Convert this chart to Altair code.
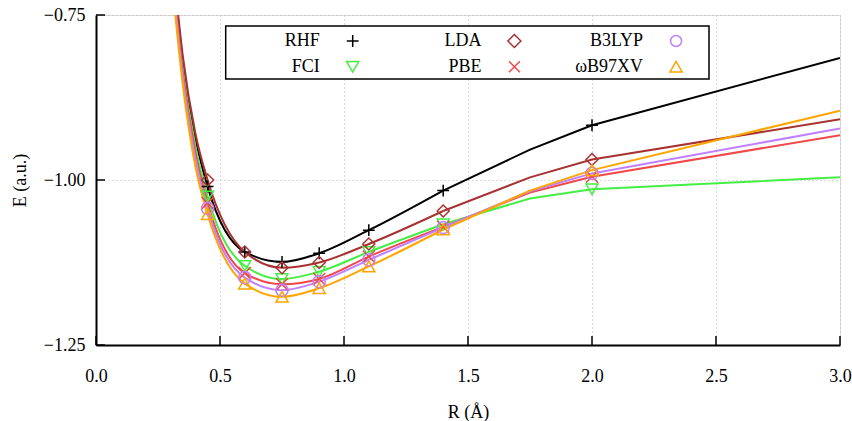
import altair as alt
import pandas as pd

# ---------------- data ----------------
methods = ["RHF", "FCI", "LDA", "PBE", "B3LYP", "ωB97XV"]
colors = ["#000000", "#44ee44", "#a83232", "#f04848", "#c080ff", "#ffa500"]
shapes = ["M-1,0L1,0M0,-1L0,1", "triangle-down", "diamond",
          "M-1,-1L1,1M-1,1L1,-1", "circle", "triangle-up"]
sizes = [140, 150, 170, 120, 120, 150]

R = [0.30, 0.35, 0.40, 0.45, 0.60, 0.75, 0.90, 1.10, 1.40, 1.75, 2.00, 3.00]
R_marked = [0.45, 0.60, 0.75, 0.90, 1.10, 1.40, 2.00]

E_RHF = [-0.640, -0.820, -0.935, -1.010, -1.109, -1.124, -1.111, -1.076, -1.016, -0.954, -0.917, -0.815]
E_FCI = [-0.650, -0.830, -0.948, -1.025, -1.130, -1.150, -1.139, -1.109, -1.067, -1.028, -1.014, -0.996]
E_LDA = [-0.630, -0.812, -0.928, -1.000, -1.109, -1.133, -1.125, -1.097, -1.047, -0.996, -0.969, -0.908]
E_PBE = [-0.655, -0.838, -0.957, -1.035, -1.141, -1.158, -1.150, -1.116, -1.071, -1.019, -0.995, -0.932]
E_B3LYP = [-0.662, -0.845, -0.966, -1.043, -1.148, -1.167, -1.154, -1.121, -1.072, -1.017, -0.990, -0.922]
E_WB97XV = [-0.672, -0.856, -0.978, -1.052, -1.157, -1.177, -1.164, -1.131, -1.075, -1.016, -0.985, -0.895]

x_ticks = [0.0, 0.5, 1.0, 1.5, 2.0, 2.5, 3.0]
y_ticks = [-1.25, -1.00, -0.75]

# legend layout (column, row) for each method
legend_col = [0, 0, 1, 1, 2, 2]
legend_row = [0, 1, 0, 1, 0, 1]

# ---------------- frames ----------------
series = [E_RHF, E_FCI, E_LDA, E_PBE, E_B3LYP, E_WB97XV]
rows = []
for m, E in zip(methods, series):
    for r, e in zip(R, E):
        rows.append({"method": m, "R": r, "E": e})
df = pd.DataFrame(rows)
df_lo = df[df["R"] <= 1.4]
df_hi = df[df["R"] >= 1.4]
df_pts = df[df["R"].isin(R_marked)]

xt = pd.DataFrame({"R": x_ticks})
yt = pd.DataFrame({"E": y_ticks})

W, H = 744, 330
FONT = "Liberation Serif"

color_enc = alt.Color("method:N", scale=alt.Scale(domain=methods, range=colors), legend=None)
shape_enc = alt.Shape("method:N", scale=alt.Scale(domain=methods, range=shapes), legend=None)
size_enc = alt.Size("method:N", scale=alt.Scale(domain=methods, range=sizes), legend=None)

xscale = alt.Scale(domain=[0, 3], nice=False, zero=False)
yscale = alt.Scale(domain=[-1.25, -0.75], nice=False, zero=False)

x_axis = alt.Axis(values=x_ticks, format=".1f", title="R (Å)", grid=True,
                  gridDash=[1, 3], gridColor="#b8b8b8", gridWidth=1,
                  tickSize=0, labelPadding=22, labelFlush=False, labelOverlap=False,
                  domainColor="#000000", domainWidth=2,
                  labelFont=FONT, labelFontSize=18, labelColor="#000000",
                  titleFont=FONT, titleFontSize=18, titleFontWeight="normal",
                  titleColor="#000000", titlePadding=18)
y_axis = alt.Axis(values=y_ticks, format=".2f", title="E (a.u.)", grid=True,
                  gridDash=[1, 3], gridColor="#b8b8b8", gridWidth=1,
                  tickSize=0, labelPadding=11, labelFlush=False, labelOverlap=False,
                  domainColor="#000000", domainWidth=2,
                  labelFont=FONT, labelFontSize=18, labelColor="#000000",
                  titleFont=FONT, titleFontSize=18, titleFontWeight="normal",
                  titleColor="#000000", titlePadding=14)

X = alt.X("R:Q", scale=xscale, axis=x_axis)
Y = alt.Y("E:Q", scale=yscale, axis=y_axis)

line_lo = alt.Chart(df_lo).mark_line(interpolate="monotone", clip=True, strokeWidth=2).encode(
    x=X, y=Y, color=color_enc, detail="method:N", order=alt.Order("R:Q"))

line_hi = alt.Chart(df_hi).mark_line(clip=True, strokeWidth=2).encode(
    x=X, y=Y, color=color_enc, detail="method:N", order=alt.Order("R:Q"))

pts = alt.Chart(df_pts).mark_point(filled=False, strokeWidth=1.5, opacity=1).encode(
    x=X, y=Y, color=color_enc, shape=shape_enc, size=size_enc)

xtick_l = alt.Chart(xt).mark_rule(color="#000000", strokeWidth=1.5).encode(
    x=X, y=alt.value(H), y2=alt.value(H - 9))
ytick_l = alt.Chart(yt).mark_rule(color="#000000", strokeWidth=1.5).encode(
    y=Y, x=alt.value(0), x2=alt.value(9))

one = pd.DataFrame({"a": [0]})

box = alt.Chart(one).mark_rect(
    fill="#ffffff", stroke="#000000", strokeWidth=1.5).encode(
    x=alt.value(129.7), x2=alt.value(613), y=alt.value(11), y2=alt.value(64))

# legend entries: label (right aligned) then symbol
LEG_X0, LEG_DX = 256.7, 161.7
LEG_Y0, LEG_DY = 26, 25.7
legend_layers = [box]
for m, c, s, sz, col, row in zip(methods, colors, shapes, sizes, legend_col, legend_row):
    px = LEG_X0 + col * LEG_DX
    py = LEG_Y0 + row * LEG_DY
    legend_layers.append(
        alt.Chart(one).mark_text(text=m, align="right", baseline="middle",
                                 font=FONT, fontSize=18, color="#000000").encode(
            x=alt.value(px - 33), y=alt.value(py)))
    legend_layers.append(
        alt.Chart(one).mark_point(shape=s, color=c, size=sz, filled=False,
                                  strokeWidth=1.5, opacity=1).encode(
            x=alt.value(px), y=alt.value(py)))

chart = alt.layer(line_lo, line_hi, pts, xtick_l, ytick_l, *legend_layers).properties(
    width=W, height=H,
    autosize=alt.AutoSizeParams(type="none"),
    padding={"left": 96, "top": 15, "right": 12, "bottom": 76},
).configure_view(strokeWidth=0).configure(background="#ffffff")

chart.save("out.html", embed_options={"renderer": "svg", "actions": False})
